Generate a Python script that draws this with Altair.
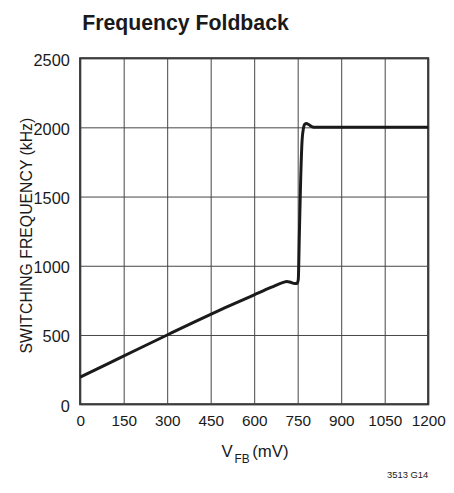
import altair as alt
import pandas as pd

# Data
vfb_mv = [0, 100, 200, 300, 400, 500, 600, 660, 700, 712, 725, 740, 748, 752, 756,
          760, 765, 770, 774, 780, 788, 798, 812, 900, 1050, 1200]
freq_khz = [195, 297, 399, 500, 600, 697, 790, 845, 880, 886, 881, 872, 872, 900, 1250,
            1600, 1900, 1995, 2022, 2028, 2020, 2006, 2000, 2000, 2000, 2000]

x_ticks = [0, 150, 300, 450, 600, 750, 900, 1050, 1200]
y_ticks = [0, 500, 1000, 1500, 2000, 2500]

title_text = "Frequency Foldback"
y_title = "SWITCHING FREQUENCY (kHz)"
x_title_main = "V"
x_title_sub = "FB"
x_title_unit = "(mV)"
footnote = "3513 G14"

FONT = "Liberation Sans"

df = pd.DataFrame({"vfb": vfb_mv, "freq": freq_khz})

W, H = 352, 350

line = alt.Chart(df).mark_line(
    color="#1a1a1a", strokeWidth=3, interpolate="monotone", strokeJoin="round"
).encode(
    x=alt.X("vfb:Q",
            scale=alt.Scale(domain=[0, 1200], nice=False),
            axis=alt.Axis(values=x_ticks, title=None, labelPadding=10, format="d",
                          labelOverlap=False, labelFlush=False,
                          tickSize=0, ticks=False, domain=False,
                          labelFontSize=15.5, labelFont=FONT, labelColor="#1a1a1a",
                          gridColor="#444444", gridWidth=1, gridOpacity=1)),
    y=alt.Y("freq:Q",
            scale=alt.Scale(domain=[0, 2500], nice=False),
            axis=alt.Axis(values=y_ticks, title=y_title, labelPadding=11, format="d",
                          labelOverlap=False, labelFlush=False,
                          tickSize=0, ticks=False, domain=False,
                          labelFontSize=16.5, labelFont=FONT, labelColor="#1a1a1a",
                          labelOffset=2,
                          titleFont=FONT, titleFontSize=16, titleFontWeight="normal",
                          titleColor="#1a1a1a", titleAngle=-90, titleBaseline="top",
                          titleX=-62, titleY=H / 2 + 4, titleAlign="center",
                          gridColor="#444444", gridWidth=1, gridOpacity=1)),
)


def text_layer(txt, x, y, size, align="left", weight="normal", font=FONT):
    return alt.Chart(pd.DataFrame({"t": [txt]})).mark_text(
        align=align, baseline="alphabetic", fontSize=size, font=font,
        fontWeight=weight, color="#1a1a1a"
    ).encode(text="t:N", x=alt.value(x), y=alt.value(y))


chart = alt.layer(
    line,
    text_layer(title_text, 2, -28, 21.5, weight="bold"),
    text_layer(x_title_main, 143, 403, 17),
    text_layer(x_title_sub, 156, 409, 12),
    text_layer(x_title_unit, 174, 403, 17),
    text_layer(footnote, W, 425, 9.5, align="right"),
).properties(
    width=W, height=H,
    autosize=alt.AutoSizeParams(type="none"),
    padding={"left": 73, "top": 48, "right": 18, "bottom": 77},
).configure_view(
    stroke="#1a1a1a", strokeWidth=2
)

chart.save("out.html", embed_options={"renderer": "svg", "actions": False})
